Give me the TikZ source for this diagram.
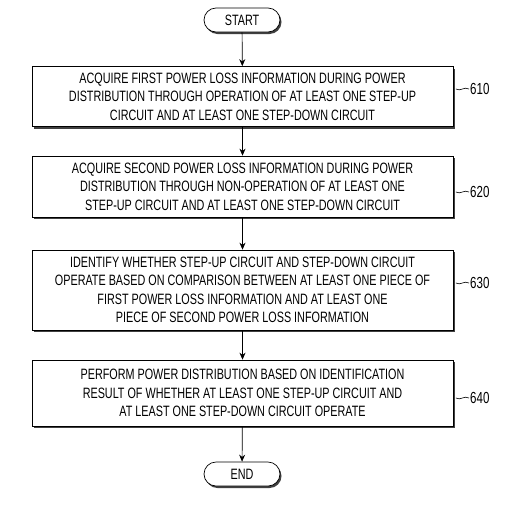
\documentclass[tikz,border=0pt]{standalone}
\usepackage{fontspec}
\setmainfont{Liberation Sans}[FakeStretch=0.72]
\usetikzlibrary{shapes.misc,arrows.meta,shadows}

\tikzset{
  stepbox/.style={draw, fill=white, line width=0.7pt, minimum width=421pt,
    align=center, inner sep=0pt, font=\fontsize{15}{18.5}\selectfont,
    drop shadow={shadow xshift=2.2pt, shadow yshift=-2.2pt, fill=black!75, opacity=1}},
  termnode/.style={draw, fill=white, rounded rectangle, line width=0.7pt,
    minimum width=76pt, minimum height=24pt, inner sep=0pt, font=\fontsize{15}{15}\selectfont,
    drop shadow={shadow xshift=1.5pt, shadow yshift=-2pt, fill=black!75, opacity=1}},
  flow/.style={-{Stealth[length=7pt,width=6pt]}, line width=0.7pt},
  reflabel/.style={anchor=west, inner sep=0pt, font=\fontsize{16}{16}\selectfont},
  leader/.style={line width=0.6pt}
}

\begin{document}
\begin{tikzpicture}[x=1pt,y=-1pt]
  \useasboundingbox (0,0) rectangle (532,520);
  % Terminals
  \node[termnode] (start) at (242,20) {START};
  \node[termnode] (end) at (242,474) {END};
  % Steps
  \node[stepbox, minimum height=60pt] (s610) at (242.5,96.5) {ACQUIRE FIRST POWER LOSS INFORMATION DURING POWER\\
    DISTRIBUTION THROUGH OPERATION OF AT LEAST ONE STEP-UP\\
    CIRCUIT AND AT LEAST ONE STEP-DOWN CIRCUIT};
  \node[stepbox, minimum height=61pt] (s620) at (242.5,186.5) {ACQUIRE SECOND POWER LOSS INFORMATION DURING POWER\\
    DISTRIBUTION THROUGH NON-OPERATION OF AT LEAST ONE\\
    STEP-UP CIRCUIT AND AT LEAST ONE STEP-DOWN CIRCUIT};
  \node[stepbox, minimum height=80pt] (s630) at (242.5,290) {IDENTIFY WHETHER STEP-UP CIRCUIT AND STEP-DOWN CIRCUIT\\
    OPERATE BASED ON COMPARISON BETWEEN AT LEAST ONE PIECE OF\\
    FIRST POWER LOSS INFORMATION AND AT LEAST ONE\\
    PIECE OF SECOND POWER LOSS INFORMATION};
  \node[stepbox, minimum height=66pt] (s640) at (242.5,393) {PERFORM POWER DISTRIBUTION BASED ON IDENTIFICATION\\
    RESULT OF WHETHER AT LEAST ONE STEP-UP CIRCUIT AND\\
    AT LEAST ONE STEP-DOWN CIRCUIT OPERATE};
  % Flow
  \draw[flow] (start) -- (s610);
  \draw[flow] (s610) -- (s620);
  \draw[flow] (s620) -- (s630);
  \draw[flow] (s630) -- (s640);
  \draw[flow] (s640) -- (end);
  % Reference numerals
  \node[reflabel] (l610) at (470,89) {610};
  \node[reflabel] (l620) at (470,192) {620};
  \node[reflabel] (l630) at (470,283) {630};
  \node[reflabel] (l640) at (470,398) {640};
  \foreach \n in {610,620,630,640}
    \draw[leader] ([xshift=-1pt]l\n.west) .. controls +(-5,-3) and +(5,3) .. ([xshift=2.5pt]s\n.east |- l\n.west);
\end{tikzpicture}
\end{document}
